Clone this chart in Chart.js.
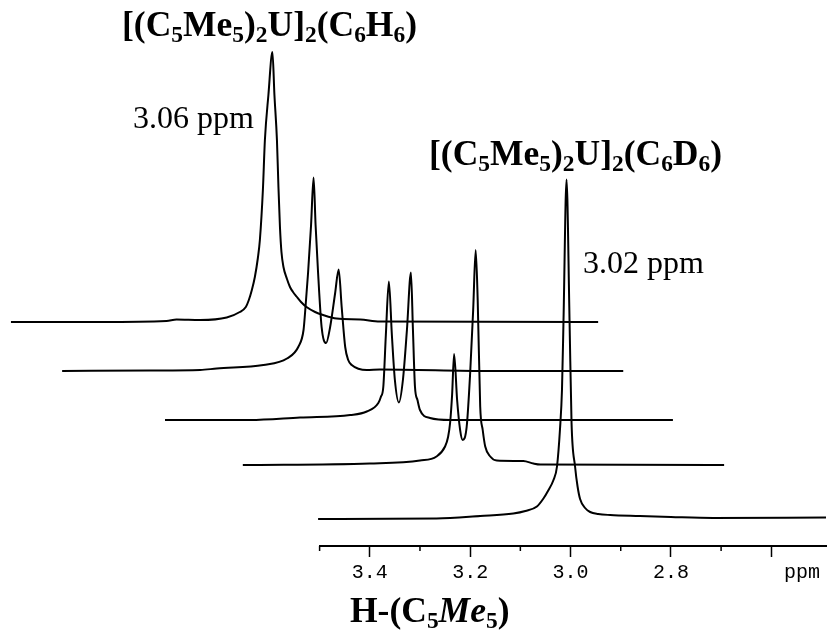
<!DOCTYPE html>
<html>
<head>
<meta charset="utf-8">
<script src="https://cdn.jsdelivr.net/npm/chart.js@4.4.1/dist/chart.umd.min.js"></script>
<style>
    body { margin: 0; background: #fff; }
    #wrap { width: 827px; height: 637px; position: relative; }
</style>
</head>
<body>
<div id="wrap"><canvas id="nmr"></canvas></div>
<script>
// axis ticks (ppm)
const tickValues = [3.5, 3.4, 3.3, 3.2, 3.1, 3.0, 2.9, 2.8, 2.7, 2.6];
const tickLabels = ['', '3.4', '', '3.2', '', '3.0', '', '2.8', '', ''];
const tickMajor = [false, true, false, true, false, true, false, true, false, true];

// stacked traces, top (C6H6) to bottom (C6D6); intensity in arbitrary units above own baseline
const baseLevels = [44.8, 35.0, 25.2, 16.2, 5.4];

const trace1Ppm = [4.115, 3.937, 3.805, 3.785, 3.738, 3.685, 3.659, 3.647, 3.641, 3.635, 3.629, 3.623, 3.619, 3.613, 3.609, 3.602, 3.594, 3.590, 3.585, 3.582, 3.579, 3.576, 3.572, 3.565, 3.559, 3.553, 3.546, 3.537, 3.526, 3.509, 3.493, 3.466, 3.419, 3.380, 2.945];
const trace1Int = [0, 0, 0.2, 0.5, 0.4, 0.9, 2.0, 3.0, 4.4, 6.4, 9.0, 12.8, 16.4, 26.4, 36.4, 45.4, 54.0, 45.4, 36.4, 27.0, 19.0, 14.0, 11.0, 8.6, 7.0, 6.0, 5.1, 4.0, 3.0, 2.0, 1.4, 0.7, 0.5, 0.1, 0];

const trace2Ppm = [4.013, 3.838, 3.738, 3.705, 3.612, 3.565, 3.542, 3.532, 3.529, 3.523, 3.517, 3.512, 3.508, 3.503, 3.496, 3.487, 3.479, 3.469, 3.462, 3.456, 3.449, 3.443, 3.436, 3.406, 3.380, 3.160, 2.895];
const trace2Int = [0, 0.1, 0.2, 0.5, 1.2, 2.5, 4.9, 8.2, 11.6, 19.6, 29.2, 38.7, 29.2, 19.6, 8.8, 5.6, 8.8, 15.6, 20.3, 12.8, 4.8, 2.2, 1.2, 0.2, 0.3, 0, 0];

const trace3Ppm = [3.808, 3.639, 3.539, 3.439, 3.406, 3.383, 3.378, 3.373, 3.368, 3.362, 3.356, 3.350, 3.342, 3.334, 3.326, 3.318, 3.314, 3.310, 3.305, 3.300, 3.280, 3.240, 2.796];
const trace3Int = [0, 0, 0.5, 1.0, 1.7, 3.4, 4.6, 6.7, 17, 27.7, 17, 8, 3.5, 8, 18, 29.5, 18, 6.7, 4.0, 2.0, 0.4, 0, 0];

const trace4Ppm = [3.653, 3.400, 3.300, 3.267, 3.250, 3.244, 3.240, 3.236, 3.232, 3.226, 3.220, 3.215, 3.207, 3.200, 3.194, 3.189, 3.185, 3.180, 3.175, 3.170, 3.160, 3.147, 3.094, 3.074, 3.060, 2.694];
const trace4Int = [0, 0.3, 0.9, 1.7, 3.7, 5.6, 8.4, 14, 22.2, 13, 7, 5, 7.6, 18.4, 31, 43, 33, 11.7, 7.0, 3.7, 1.7, 0.9, 0.8, 0.3, 0.1, 0];

const trace5Ppm = [3.503, 3.267, 3.180, 3.114, 3.090, 3.067, 3.054, 3.045, 3.034, 3.027, 3.021, 3.017, 3.014, 3.008, 3.002, 2.998, 2.991, 2.986, 2.981, 2.971, 2.961, 2.945, 2.921, 2.862, 2.800, 2.716, 2.491];
const trace5Int = [0, 0.1, 0.6, 1.1, 1.6, 2.5, 4.1, 5.6, 7.8, 10.5, 18, 26, 39.8, 67.9, 39.8, 19.2, 10.5, 6.5, 4.0, 2.2, 1.4, 1.0, 0.8, 0.6, 0.4, 0.2, 0.3];

// labels, split in runs: n = normal, s = subscript, i = italic
const labelTop = [['[(C', 'n'], ['5', 's'], ['Me', 'n'], ['5', 's'], [')', 'n'], ['2', 's'], ['U]', 'n'], ['2', 's'], ['(C', 'n'], ['6', 's'], ['H', 'n'], ['6', 's'], [')', 'n']];
const labelBottom = [['[(C', 'n'], ['5', 's'], ['Me', 'n'], ['5', 's'], [')', 'n'], ['2', 's'], ['U]', 'n'], ['2', 's'], ['(C', 'n'], ['6', 's'], ['D', 'n'], ['6', 's'], [')', 'n']];
const axisTitle = [['H-(C', 'n'], ['5', 's'], ['Me', 'i'], ['5', 's'], [')', 'n']];
const shiftTop = '3.06 ppm';
const shiftBottom = '3.02 ppm';

const serif = '"Liberation Serif", "Times New Roman", serif';
const mono = '"Liberation Mono", "Courier New", monospace';

function makeSet(ppm, inten, base) {
    const pts = [];
    for (let i = 0; i < ppm.length; i++) {
        pts.push({ x: ppm[i], y: inten[i] + base });
    }
    return {
        data: pts,
        borderColor: '#000',
        borderWidth: 2,
        pointRadius: 0,
        cubicInterpolationMode: 'monotone',
        clip: false
    };
}

// draws a label made of runs
function drawRich(ctx, parts, x, y, size, weight) {
    let cx = x;
    for (let i = 0; i < parts.length; i++) {
        const txt = parts[i][0];
        const kind = parts[i][1];
        let fs = size;
        let dy = 0;
        let style = '';
        if (kind === 's') { fs = size * 0.66; dy = size * 0.16; }
        if (kind === 'i') { style = 'italic '; }
        ctx.font = style + weight + ' ' + fs + 'px ' + serif;
        ctx.fillText(txt, cx, y + dy);
        cx += ctx.measureText(txt).width;
    }
}

const extras = {
    id: 'extras',
    afterDraw(chart) {
        const ctx = chart.ctx;
        const xs = chart.scales.x;
        ctx.save();
        // short minor ticks
        ctx.strokeStyle = '#000';
        ctx.lineWidth = 1.5;
        for (let i = 0; i < tickValues.length; i++) {
            if (tickMajor[i]) continue;
            const px = xs.getPixelForValue(tickValues[i]);
            ctx.beginPath();
            ctx.moveTo(px, xs.top);
            ctx.lineTo(px, xs.top + 5);
            ctx.stroke();
        }
        ctx.fillStyle = '#000';
        ctx.textBaseline = 'alphabetic';
        ctx.textAlign = 'left';
        drawRich(ctx, labelTop, 122, 36, 35.5, 'bold');
        drawRich(ctx, labelBottom, 429, 165, 35.5, 'bold');
        drawRich(ctx, axisTitle, 350, 622, 35.5, 'bold');
        ctx.font = '32px ' + serif;
        ctx.fillText(shiftTop, 133, 128);
        ctx.fillText(shiftBottom, 583, 273);
        ctx.font = '20px ' + mono;
        ctx.textAlign = 'center';
        ctx.textBaseline = 'middle';
        ctx.fillText('ppm', 802, 573);
        ctx.restore();
    }
};

const ctx = document.getElementById('nmr').getContext('2d');
const nmrChart = new Chart(ctx, {
    type: 'line',
    data: {
        datasets: [
            makeSet(trace1Ppm, trace1Int, baseLevels[0]),
            makeSet(trace2Ppm, trace2Int, baseLevels[1]),
            makeSet(trace3Ppm, trace3Int, baseLevels[2]),
            makeSet(trace4Ppm, trace4Int, baseLevels[3]),
            makeSet(trace5Ppm, trace5Int, baseLevels[4])
        ]
    },
    options: {
        responsive: true,
        maintainAspectRatio: false,
        animation: false,
        layout: { padding: { left: 319.6, right: 0.5, top: 0, bottom: 0 } },
        plugins: {
            legend: { display: false },
            tooltip: { enabled: false }
        },
        scales: {
            x: {
                type: 'linear',
                reverse: true,
                min: 2.49,
                max: 3.5,
                afterBuildTicks: function (scale) {
                    scale.ticks = tickValues.map(v => ({ value: v }));
                },
                afterFit: function (scale) {
                    scale.height = 91;
                },
                border: { display: true, color: '#000', width: 2 },
                grid: {
                    drawOnChartArea: false,
                    drawTicks: true,
                    tickLength: 11,
                    tickWidth: 1.5,
                    tickColor: function (c) {
                        return tickMajor[c.index] ? '#000' : 'rgba(0,0,0,0)';
                    }
                },
                ticks: {
                    autoSkip: false,
                    maxRotation: 0,
                    padding: 4,
                    color: '#000',
                    font: { family: mono, size: 20 },
                    callback: function (value, index) {
                        return tickLabels[index];
                    }
                }
            },
            y: {
                display: false,
                min: 0,
                max: 109.2
            }
        }
    },
    plugins: [extras]
});
</script>
</body>
</html>
